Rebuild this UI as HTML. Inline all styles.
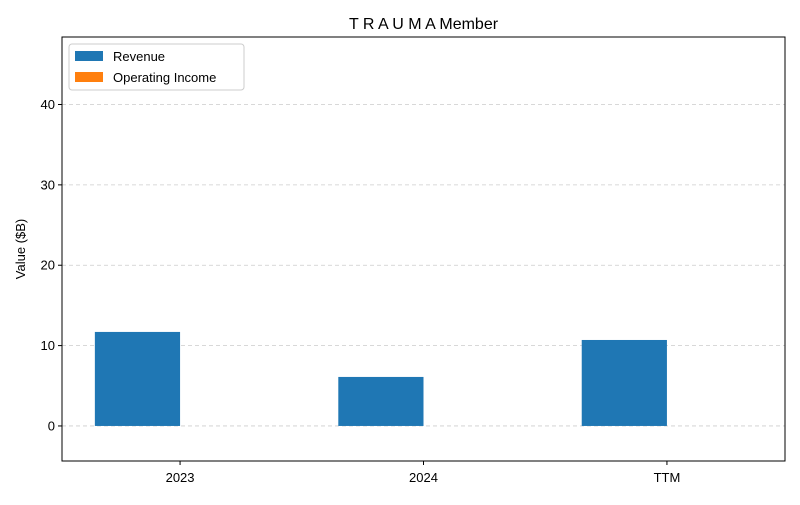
<!DOCTYPE html>
<html><head><meta charset="utf-8"><style>
body{margin:0;background:#fff;font-family:"Liberation Sans","DejaVu Sans",sans-serif}
</style></head><body>
<svg id="chart" width="800" height="500" xmlns="http://www.w3.org/2000/svg">
<rect width="800" height="500" fill="#fff"/>
<text x="423.5" y="29" font-size="16" text-anchor="middle">T R A U M A Member</text>
<g id="grid"></g><g id="bars"></g><g id="axes"></g>
<text transform="translate(25,249) rotate(-90)" font-size="13" text-anchor="middle">Value ($B)</text>
<g>
<rect x="69" y="44" width="175" height="46" rx="3" fill="#fff" stroke="#ccc"/>
<rect x="75" y="51" width="28" height="10" fill="#1f77b4"/>
<text x="113" y="61" font-size="13">Revenue</text>
<rect x="75" y="72" width="28" height="10" fill="#ff7f0e"/>
<text x="113" y="82" font-size="13">Operating Income</text>
</g>
</svg>
<script>
const categories=["2023","2024","TTM"];
const revenue=[11.7,6.1,10.7];
const operatingIncome=[0,0,0];
const yTicks=[0,10,20,30,40];
const L=62,R=785,T=37,B=461,yMin=-4.36,yMax=48.4,xMin=-0.485,xMax=2.485;
const ns="http://www.w3.org/2000/svg";
const y=v=>B-(v-yMin)/(yMax-yMin)*(B-T);
const x=i=>L+(i-xMin)/(xMax-xMin)*(R-L);
const bw=0.35*(x(1)-x(0));
function mk(t,a,p){const e=document.createElementNS(ns,t);for(const k in a)e.setAttribute(k,a[k]);p.appendChild(e);return e;}
const grid=document.getElementById('grid'),bars=document.getElementById('bars'),axes=document.getElementById('axes');
yTicks.forEach(v=>{
const g=mk('line',{x1:L,x2:R,y1:y(v),y2:y(v),stroke:'#ccc','stroke-dasharray':'4,3','stroke-width':0.8},grid);


const t=mk('line',{x1:L-4,x2:L,y1:y(v),y2:y(v),stroke:'#000'},axes);


const l=mk('text',{x:L-7,y:y(v)+4.5,'font-size':13,'text-anchor':'end'},axes);l.textContent=v;


});
categories.forEach((c,i)=>{
const r=revenue[i];
const b=mk('rect',{x:x(i)-bw,y:Math.min(y(r),y(0)),width:bw,height:Math.abs(y(r)-y(0)),fill:'#1f77b4'},bars);


const o=operatingIncome[i];
const b2=mk('rect',{x:x(i),y:Math.min(y(o),y(0)),width:bw,height:Math.abs(y(o)-y(0)),fill:'#ff7f0e'},bars);


const t=mk('line',{x1:x(i),x2:x(i),y1:B,y2:B+4,stroke:'#000'},axes);


const l=mk('text',{x:x(i),y:B+21,'font-size':13,'text-anchor':'middle'},axes);l.textContent=c;


});
const f=mk('rect',{x:L,y:T,width:R-L,height:B-T,fill:'none',stroke:'#000','stroke-width':1},axes);


</script>
</body></html>
